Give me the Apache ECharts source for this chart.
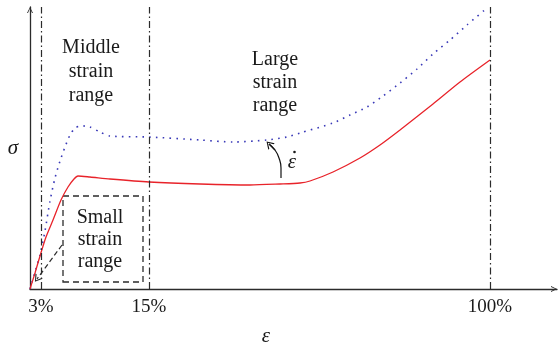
<!DOCTYPE html>
<html>
<head>
<meta charset="utf-8">
<script src="https://cdn.jsdelivr.net/npm/echarts@6/dist/echarts.min.js"></script>
<style>
  html, body { margin: 0; padding: 0; background: #fff; }
  #chart { width: 558px; height: 349px; }
</style>
</head>
<body>
<div id="chart"></div>
<script>
// x in plot units (0 = origin), y in plot units (0 = x axis)
const redX = [0, 5, 10, 16, 23, 31, 38, 44, 48, 60, 80, 119, 170, 220, 250, 270, 280, 303, 330, 350, 370, 403, 430, 460];
const redY = [0, 16, 33, 52, 69, 89, 102, 110, 113, 112, 110, 107, 105, 104, 105, 106, 108, 117, 131, 144, 159, 185, 207, 229];

const blueX = [0, 5, 10, 15, 20, 25, 30, 35, 40, 45, 51, 56, 60, 70, 80, 119, 170, 203, 237, 257, 270, 303, 320, 337, 353, 370, 387, 403, 420, 437, 457];
const blueY = [0, 17, 34, 58, 88, 111, 128, 142, 154, 161, 163, 163, 162, 157, 153, 152, 149, 147, 149, 152, 156, 166, 174, 182, 193, 206, 220, 235, 249, 264, 281];

// curved "strain rate" arrow shaft
const rateX = [251, 251, 249, 245, 239];
const rateY = [111, 121, 131, 139, 145];

const strainLabels = ['3%', '15%', '100%'];
const strainPos = [11, 119, 460];

const smallBox = [[33, 7], [113, 93]];
const boxArrow = [[32, 44], [7, 10]];

const X_MAX = 527;
const Y_MAX = 282;

const ink = '#2b2b2b';
const serif = 'Liberation Serif, Times New Roman, serif';
const chevron = 'path://M0,10 L5,0 L10,10 L8.4,10 L5,2.6 L1.6,10 Z';

const zip = (xs, ys) => xs.map((x, i) => [x, ys[i]]);

const chart = echarts.init(document.getElementById('chart'), null, { renderer: 'canvas' });

const dashDot = { color: ink, width: 1.2, type: [7, 3, 1.5, 3] };
const rate = zip(rateX, rateY);

chart.setOption({
  animation: false,
  grid: { left: 30, right: 1, top: 7, bottom: 60 },
  xAxis: {
    type: 'value', min: 0, max: X_MAX,
    splitLine: { show: false },
    axisTick: { show: false },
    axisLine: {
      lineStyle: { color: ink, width: 1.3 },
      symbol: ['none', chevron], symbolSize: [9, 6], symbolOffset: [0, -3]
    },
    axisLabel: {
      customValues: strainPos,
      formatter: (v) => strainLabels[strainPos.indexOf(v)] || '',
      color: '#1a1a1a', fontFamily: serif, fontSize: 19, margin: 9
    }
  },
  yAxis: {
    type: 'value', min: 0, max: Y_MAX,
    splitLine: { show: false },
    axisTick: { show: false },
    axisLabel: { show: false },
    axisLine: {
      show: true,
      lineStyle: { color: ink, width: 1.3 },
      symbol: ['none', chevron], symbolSize: [9, 6], symbolOffset: [0, -3]
    }
  },
  series: [
    {
      name: 'dynamic', type: 'line', data: zip(blueX, blueY),
      showSymbol: false, smooth: 0.25,
      lineStyle: { color: '#3a3ab8', width: 1.6, type: [1.6, 5.2] }
    },
    {
      name: 'static', type: 'line', data: zip(redX, redY),
      showSymbol: false, smooth: 0.25,
      lineStyle: { color: '#e8232a', width: 1.3 },
      markArea: {
        silent: true,
        itemStyle: { color: 'rgba(0,0,0,0)', borderColor: ink, borderWidth: 1.3, borderType: [6, 4] },
        data: [[{ coord: smallBox[0] }, { coord: smallBox[1] }]]
      },
      markLine: {
        silent: true,
        symbol: ['none', 'none'],
        label: { show: false },
        data: strainPos.map(p => [
          { coord: [p, 0], lineStyle: dashDot },
          { coord: [p, Y_MAX] }
        ]).concat([
          [
            { coord: boxArrow[0], lineStyle: { color: ink, width: 1.2, type: [5, 3] } },
            { coord: boxArrow[1], symbol: chevron, symbolSize: [9, 7] }
          ]
        ])
      }
    },
    {
      name: 'rate', type: 'line', data: rate,
      showSymbol: false, smooth: 0.5,
      lineStyle: { color: '#111', width: 1.2 },
      markLine: {
        silent: true,
        symbol: ['none', chevron], symbolSize: [9, 7],
        label: { show: false },
        lineStyle: { color: '#111', width: 1.2, type: 'solid' },
        data: [[{ coord: rate[rate.length - 2] }, { coord: rate[rate.length - 1] }]]
      }
    }
  ],
  graphic: [
    { type: 'text', style: { text: 'Middle\nstrain\nrange', x: 91, y: 72, align: 'center', verticalAlign: 'middle', font: '20px ' + serif, lineHeight: 24, fill: '#1a1a1a' } },
    { type: 'text', style: { text: 'Large\nstrain\nrange', x: 275, y: 83, align: 'center', verticalAlign: 'middle', font: '20px ' + serif, lineHeight: 23, fill: '#1a1a1a' } },
    { type: 'text', style: { text: 'Small\nstrain\nrange', x: 100, y: 240, align: 'center', verticalAlign: 'middle', font: '20px ' + serif, lineHeight: 22, fill: '#1a1a1a' } },
    { type: 'text', style: { text: 'σ', x: 13, y: 148, align: 'center', verticalAlign: 'middle', font: 'italic 21px ' + serif, fill: '#1a1a1a' } },
    { type: 'text', style: { text: 'ε', x: 266, y: 336, align: 'center', verticalAlign: 'middle', font: 'italic 21px ' + serif, fill: '#1a1a1a' } },
    { type: 'text', style: { text: 'ε', x: 292, y: 162, align: 'center', verticalAlign: 'middle', font: 'italic 21px ' + serif, fill: '#1a1a1a' } },
    { type: 'circle', shape: { cx: 294.5, cy: 152, r: 1.3 }, style: { fill: '#1a1a1a' } }
  ]
});
</script>
</body>
</html>
